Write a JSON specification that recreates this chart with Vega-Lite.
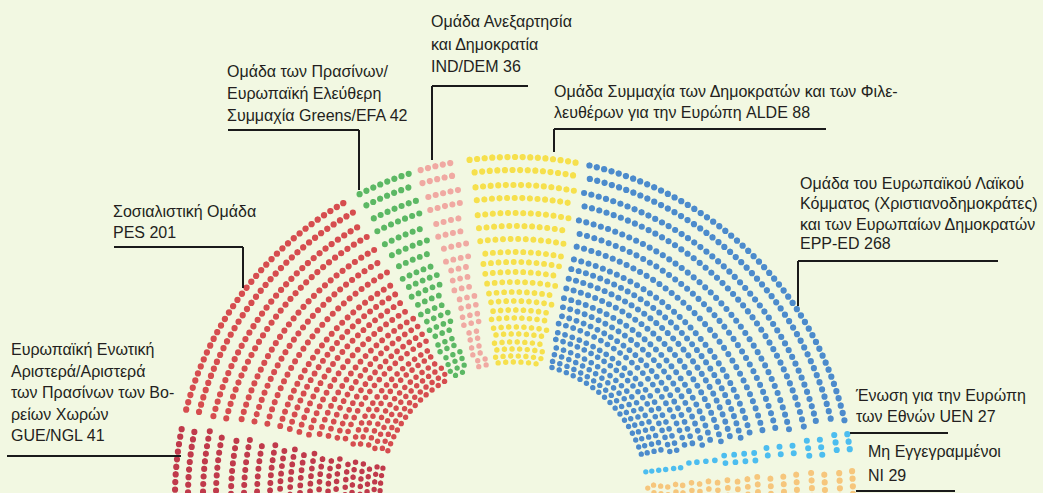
{
  "$schema": "https://vega.github.io/schema/vega-lite/v6.json",
  "width": 1043,
  "height": 493,
  "padding": 0,
  "autosize": {"type": "none"},
  "background": "#f2f8e2",
  "config": {"view": {"stroke": null}},
  "datasets": {
    "seats": [
      {"p":"GUE","ring":1,"a0":-8,"a1":12},{"p":"GUE","ring":2,"a0":-8,"a1":12},{"p":"GUE","ring":3,"a0":-8,"a1":12},{"p":"GUE","ring":4,"a0":-8,"a1":12},{"p":"GUE","ring":5,"a0":-8,"a1":12},{"p":"GUE","ring":6,"a0":-8,"a1":12},{"p":"GUE","ring":7,"a0":-8,"a1":12},{"p":"GUE","ring":8,"a0":-8,"a1":12},{"p":"GUE","ring":9,"a0":-8,"a1":12},{"p":"GUE","ring":10,"a0":-8,"a1":12},{"p":"GUE","ring":11,"a0":-8,"a1":12},{"p":"GUE","ring":12,"a0":-8,"a1":12},{"p":"GUE","ring":13,"a0":-8,"a1":12},{"p":"GUE","ring":14,"a0":-8,"a1":12},{"p":"GUE","ring":15,"a0":-8,"a1":12},{"p":"GUE","ring":16,"a0":-8,"a1":12},{"p":"GUE","ring":17,"a0":-8,"a1":12},{"p":"GUE","ring":18,"a0":-8,"a1":12},{"p":"GUE","ring":19,"a0":-8,"a1":12},{"p":"GUE","ring":20,"a0":-8,"a1":12},{"p":"GUE","ring":21,"a0":-8,"a1":12},
      {"p":"PES","ring":1,"a0":14.2,"a1":60.4},{"p":"PES","ring":2,"a0":14.45,"a1":60.4},{"p":"PES","ring":3,"a0":14.7,"a1":60.4},{"p":"PES","ring":4,"a0":14.94,"a1":60.4},{"p":"PES","ring":5,"a0":15.18,"a1":60.4},{"p":"PES","ring":6,"a0":15.43,"a1":60.4},{"p":"PES","ring":7,"a0":15.67,"a1":60.4},{"p":"PES","ring":8,"a0":15.92,"a1":60.4},{"p":"PES","ring":9,"a0":16.16,"a1":60.4},{"p":"PES","ring":10,"a0":16.41,"a1":60.4},{"p":"PES","ring":11,"a0":16.65,"a1":60.4},{"p":"PES","ring":12,"a0":16.9,"a1":60.4},{"p":"PES","ring":13,"a0":17.14,"a1":60.4},{"p":"PES","ring":14,"a0":17.39,"a1":60.4},{"p":"PES","ring":15,"a0":17.63,"a1":60.4},{"p":"PES","ring":16,"a0":17.88,"a1":60.4},{"p":"PES","ring":17,"a0":18.12,"a1":60.4},{"p":"PES","ring":18,"a0":18.37,"a1":60.4},{"p":"PES","ring":19,"a0":18.61,"a1":60.4},{"p":"PES","ring":20,"a0":18.86,"a1":60.4},{"p":"PES","ring":21,"a0":19.1,"a1":60.4},
      {"p":"GRN","ring":1,"a0":62.7,"a1":71.9},{"p":"GRN","ring":2,"a0":62.7,"a1":71.76},{"p":"GRN","ring":3,"a0":62.7,"a1":71.61},{"p":"GRN","ring":4,"a0":62.7,"a1":71.47},{"p":"GRN","ring":5,"a0":62.7,"a1":71.32},{"p":"GRN","ring":6,"a0":62.7,"a1":71.18},{"p":"GRN","ring":7,"a0":62.7,"a1":71.03},{"p":"GRN","ring":8,"a0":62.7,"a1":70.89},{"p":"GRN","ring":9,"a0":62.7,"a1":70.74},{"p":"GRN","ring":10,"a0":62.7,"a1":70.6},{"p":"GRN","ring":11,"a0":62.7,"a1":70.45},{"p":"GRN","ring":12,"a0":62.7,"a1":70.31},{"p":"GRN","ring":13,"a0":62.7,"a1":70.16},{"p":"GRN","ring":14,"a0":62.7,"a1":70.02},{"p":"GRN","ring":15,"a0":62.7,"a1":69.87},{"p":"GRN","ring":16,"a0":62.7,"a1":69.73},{"p":"GRN","ring":17,"a0":62.7,"a1":69.58},{"p":"GRN","ring":18,"a0":62.7,"a1":69.44},{"p":"GRN","ring":19,"a0":62.7,"a1":69.29},{"p":"GRN","ring":20,"a0":62.7,"a1":69.15},{"p":"GRN","ring":21,"a0":62.7,"a1":69.0},
      {"p":"IND","ring":1,"a0":73.5,"a1":79.8},{"p":"IND","ring":2,"a0":73.5,"a1":79.71},{"p":"IND","ring":3,"a0":73.5,"a1":79.62},{"p":"IND","ring":4,"a0":73.5,"a1":79.53},{"p":"IND","ring":5,"a0":73.5,"a1":79.44},{"p":"IND","ring":6,"a0":73.5,"a1":79.35},{"p":"IND","ring":7,"a0":73.5,"a1":79.26},{"p":"IND","ring":8,"a0":73.5,"a1":79.17},{"p":"IND","ring":9,"a0":73.5,"a1":79.08},{"p":"IND","ring":10,"a0":73.5,"a1":78.99},{"p":"IND","ring":11,"a0":73.5,"a1":78.9},{"p":"IND","ring":12,"a0":73.5,"a1":78.81},{"p":"IND","ring":13,"a0":73.5,"a1":78.72},{"p":"IND","ring":14,"a0":73.5,"a1":78.63},{"p":"IND","ring":15,"a0":73.5,"a1":78.54},{"p":"IND","ring":16,"a0":73.5,"a1":78.45},{"p":"IND","ring":17,"a0":73.5,"a1":78.36},{"p":"IND","ring":18,"a0":73.5,"a1":78.27},{"p":"IND","ring":19,"a0":73.5,"a1":78.18},{"p":"IND","ring":20,"a0":73.5,"a1":78.09},{"p":"IND","ring":21,"a0":73.5,"a1":78.0},
      {"p":"ALDE","ring":1,"a0":82.4,"a1":101.1},{"p":"ALDE","ring":2,"a0":82.4,"a1":101.1},{"p":"ALDE","ring":3,"a0":82.4,"a1":101.1},{"p":"ALDE","ring":4,"a0":82.4,"a1":101.1},{"p":"ALDE","ring":5,"a0":82.4,"a1":101.1},{"p":"ALDE","ring":6,"a0":82.4,"a1":101.1},{"p":"ALDE","ring":7,"a0":82.4,"a1":101.1},{"p":"ALDE","ring":8,"a0":82.4,"a1":101.1},{"p":"ALDE","ring":9,"a0":82.4,"a1":101.1},{"p":"ALDE","ring":10,"a0":82.4,"a1":101.1},{"p":"ALDE","ring":11,"a0":82.4,"a1":101.1},{"p":"ALDE","ring":12,"a0":82.4,"a1":101.1},{"p":"ALDE","ring":13,"a0":82.4,"a1":101.1},{"p":"ALDE","ring":14,"a0":82.4,"a1":101.1},{"p":"ALDE","ring":15,"a0":82.4,"a1":101.1},{"p":"ALDE","ring":16,"a0":82.4,"a1":101.1},{"p":"ALDE","ring":17,"a0":82.4,"a1":101.1},{"p":"ALDE","ring":18,"a0":82.4,"a1":101.1},{"p":"ALDE","ring":19,"a0":82.4,"a1":101.1},{"p":"ALDE","ring":20,"a0":82.4,"a1":101.1},{"p":"ALDE","ring":21,"a0":82.4,"a1":101.1},
      {"p":"EPP","ring":1,"a0":102.8,"a1":167.1},{"p":"EPP","ring":2,"a0":102.91,"a1":166.92},{"p":"EPP","ring":3,"a0":103.02,"a1":166.73},{"p":"EPP","ring":4,"a0":103.13,"a1":166.55},{"p":"EPP","ring":5,"a0":103.24,"a1":166.36},{"p":"EPP","ring":6,"a0":103.35,"a1":166.18},{"p":"EPP","ring":7,"a0":103.46,"a1":165.99},{"p":"EPP","ring":8,"a0":103.57,"a1":165.81},{"p":"EPP","ring":9,"a0":103.68,"a1":165.62},{"p":"EPP","ring":10,"a0":103.79,"a1":165.44},{"p":"EPP","ring":11,"a0":103.9,"a1":165.25},{"p":"EPP","ring":12,"a0":104.01,"a1":165.07},{"p":"EPP","ring":13,"a0":104.12,"a1":164.88},{"p":"EPP","ring":14,"a0":104.23,"a1":164.7},{"p":"EPP","ring":15,"a0":104.34,"a1":164.51},{"p":"EPP","ring":16,"a0":104.45,"a1":164.33},{"p":"EPP","ring":17,"a0":104.56,"a1":164.14},{"p":"EPP","ring":18,"a0":104.67,"a1":163.96},{"p":"EPP","ring":19,"a0":104.78,"a1":163.77},{"p":"EPP","ring":20,"a0":104.89,"a1":163.59},{"p":"EPP","ring":21,"a0":105.0,"a1":163.4},
      {"p":"UEN","ring":1,"a0":169.1,"a1":172.7},{"p":"UEN","ring":2,"a0":169.1,"a1":172.55},{"p":"UEN","ring":3,"a0":169.1,"a1":172.39},{"p":"UEN","ring":4,"a0":169.1,"a1":172.24},{"p":"UEN","ring":5,"a0":169.1,"a1":172.08},{"p":"UEN","ring":6,"a0":169.1,"a1":171.93},{"p":"UEN","ring":7,"a0":169.1,"a1":171.77},{"p":"UEN","ring":8,"a0":169.1,"a1":171.62},{"p":"UEN","ring":9,"a0":169.1,"a1":171.46},{"p":"UEN","ring":10,"a0":169.1,"a1":171.31},{"p":"UEN","ring":11,"a0":169.1,"a1":171.15},{"p":"UEN","ring":12,"a0":169.1,"a1":171.0},{"p":"UEN","ring":13,"a0":169.1,"a1":170.84},{"p":"UEN","ring":14,"a0":169.1,"a1":170.69},{"p":"UEN","ring":15,"a0":169.1,"a1":170.53},{"p":"UEN","ring":16,"a0":169.1,"a1":170.38},{"p":"UEN","ring":17,"a0":169.1,"a1":170.22},{"p":"UEN","ring":18,"a0":169.1,"a1":170.07},{"p":"UEN","ring":19,"a0":169.1,"a1":169.91},{"p":"UEN","ring":20,"a0":169.1,"a1":169.76},{"p":"UEN","ring":21,"a0":169.1,"a1":169.6},
      {"p":"NI","ring":1,"a0":175.5,"a1":188},{"p":"NI","ring":2,"a0":175.5,"a1":188},{"p":"NI","ring":3,"a0":175.5,"a1":188},{"p":"NI","ring":4,"a0":175.5,"a1":188},{"p":"NI","ring":5,"a0":175.5,"a1":188},{"p":"NI","ring":6,"a0":175.5,"a1":188},{"p":"NI","ring":7,"a0":175.5,"a1":188},{"p":"NI","ring":8,"a0":175.5,"a1":188},{"p":"NI","ring":9,"a0":175.5,"a1":188},{"p":"NI","ring":10,"a0":175.5,"a1":188},{"p":"NI","ring":11,"a0":175.5,"a1":188},{"p":"NI","ring":12,"a0":175.5,"a1":188},{"p":"NI","ring":13,"a0":175.5,"a1":188},{"p":"NI","ring":14,"a0":175.5,"a1":188},{"p":"NI","ring":15,"a0":175.5,"a1":188},{"p":"NI","ring":16,"a0":175.5,"a1":188},{"p":"NI","ring":17,"a0":175.5,"a1":188},{"p":"NI","ring":18,"a0":175.5,"a1":188},{"p":"NI","ring":19,"a0":175.5,"a1":188},{"p":"NI","ring":20,"a0":175.5,"a1":188},{"p":"NI","ring":21,"a0":175.5,"a1":188}
    ],
    "leaders": [
      {"x1":228,"y1":130,"x2":359,"y2":130},{"x1":359,"y1":130,"x2":359,"y2":190},
      {"x1":432,"y1":86,"x2":528,"y2":86},{"x1":432,"y1":86,"x2":432,"y2":160},
      {"x1":554,"y1":129,"x2":826,"y2":129},{"x1":554,"y1":129,"x2":554,"y2":152},
      {"x1":114,"y1":247,"x2":243,"y2":247},{"x1":243,"y1":247,"x2":243,"y2":288},
      {"x1":798,"y1":261,"x2":998,"y2":261},{"x1":798,"y1":261,"x2":798,"y2":306},
      {"x1":7,"y1":456,"x2":181,"y2":456},
      {"x1":850,"y1":433,"x2":948,"y2":433},
      {"x1":856,"y1":491,"x2":955,"y2":491}
    ],
    "labels": [
      {"x":11,"y":355.3,"t":"Ευρωπαϊκή Ενωτική"},
      {"x":11,"y":376.8,"t":"Αριστερά/Αριστερά"},
      {"x":11,"y":398.3,"t":"των Πρασίνων των Βο-"},
      {"x":11,"y":419.8,"t":"ρείων Χωρών"},
      {"x":11,"y":441.3,"t":"GUE/NGL 41"},
      {"x":113,"y":216.7,"t":"Σοσιαλιστική Ομάδα"},
      {"x":113,"y":238.3,"t":"PES 201"},
      {"x":227,"y":76.7,"t":"Ομάδα των Πρασίνων/"},
      {"x":227,"y":98.7,"t":"Ευρωπαϊκή Ελεύθερη"},
      {"x":227,"y":120.7,"t":"Συμμαχία Greens/EFA 42"},
      {"x":431,"y":27.3,"t":"Ομάδα Ανεξαρτησία"},
      {"x":431,"y":49.5,"t":"και Δημοκρατία"},
      {"x":431,"y":71.7,"t":"IND/DEM 36"},
      {"x":554,"y":96.7,"t":"Ομάδα Συμμαχία των Δημοκρατών και των Φιλε-"},
      {"x":554,"y":118,"t":"λευθέρων για την Ευρώπη ALDE 88"},
      {"x":800,"y":188.5,"t":"Ομάδα του Ευρωπαϊκού Λαϊκού"},
      {"x":800,"y":209,"t":"Κόμματος (Χριστιανοδημοκράτες)"},
      {"x":800,"y":229.5,"t":"και των Ευρωπαίων Δημοκρατών"},
      {"x":800,"y":249,"t":"EPP-ED 268"},
      {"x":856,"y":400.7,"t":"Ένωση για την Ευρώπη"},
      {"x":856,"y":421.7,"t":"των Εθνών UEN 27"},
      {"x":868,"y":457.3,"t":"Μη Εγγεγραμμένοι"},
      {"x":868,"y":480.7,"t":"NI 29"}
    ]
  },
  "layer": [
    {
      "data": {"name": "seats"},
      "mark": {
        "type": "arc",
        "filled": false,
        "strokeCap": "round",
        "strokeDash": [0, 7.6],
        "strokeDashOffset": {"expr": "(3.8 - (scale('radius', datum.ring) * abs(datum.a1 - datum.a0) * PI / 180) % 3.8) % 3.8 + 3.8"}
      },
      "encoding": {
        "x": {"datum": 514, "type": "quantitative", "scale": {"domain": [0, 1043], "nice": false, "zero": false}, "axis": null},
        "y": {"datum": 496, "type": "quantitative", "scale": {"domain": [493, 0], "nice": false, "zero": false}, "axis": null},
        "theta": {"field": "a0", "type": "quantitative", "stack": null, "scale": {"type": "linear", "domain": [0, 180], "range": [-1.5707963, 1.5707963], "zero": false, "nice": false}},
        "theta2": {"field": "a1"},
        "radius": {"field": "ring", "type": "quantitative", "scale": {"type": "linear", "domain": [1,2,3,4,5,6,7,8,9,10,11,12,13,14,15,16,17,18,19,20,21], "range": [339,326,311,298,283,270,257,244,234,224,214,204,195,186,178,169,162,154,147,140,134], "zero": false, "nice": false}},
        "radius2": {"field": "ring"},
        "color": {"field": "p", "type": "nominal", "legend": null, "scale": {"domain": ["GUE","PES","GRN","IND","ALDE","EPP","UEN","NI"], "range": ["#c03a4b","#d64d4f","#5cb864","#f0a9a2","#f6e04c","#4c8bcc","#4cbdef","#f6c67c"]}},
        "strokeWidth": {"field": "ring", "type": "quantitative", "legend": null, "scale": {"domain": [1, 21], "range": [6.2, 5.3], "zero": false, "nice": false}}
      }
    },
    {
      "data": {"name": "leaders"},
      "mark": {"type": "rule", "color": "#1a1a1a", "strokeWidth": 2},
      "encoding": {
        "x": {"field": "x1", "type": "quantitative", "scale": {"domain": [0, 1043], "nice": false, "zero": false}, "axis": null},
        "y": {"field": "y1", "type": "quantitative", "scale": {"domain": [493, 0], "nice": false, "zero": false}, "axis": null},
        "x2": {"field": "x2"},
        "y2": {"field": "y2"}
      }
    },
    {
      "data": {"name": "labels"},
      "mark": {"type": "text", "align": "left", "baseline": "alphabetic", "font": "Liberation Sans", "fontSize": 16, "color": "#231f20"},
      "encoding": {
        "x": {"field": "x", "type": "quantitative", "scale": {"domain": [0, 1043], "nice": false, "zero": false}, "axis": null},
        "y": {"field": "y", "type": "quantitative", "scale": {"domain": [493, 0], "nice": false, "zero": false}, "axis": null},
        "text": {"field": "t", "type": "nominal"}
      }
    }
  ]
}
